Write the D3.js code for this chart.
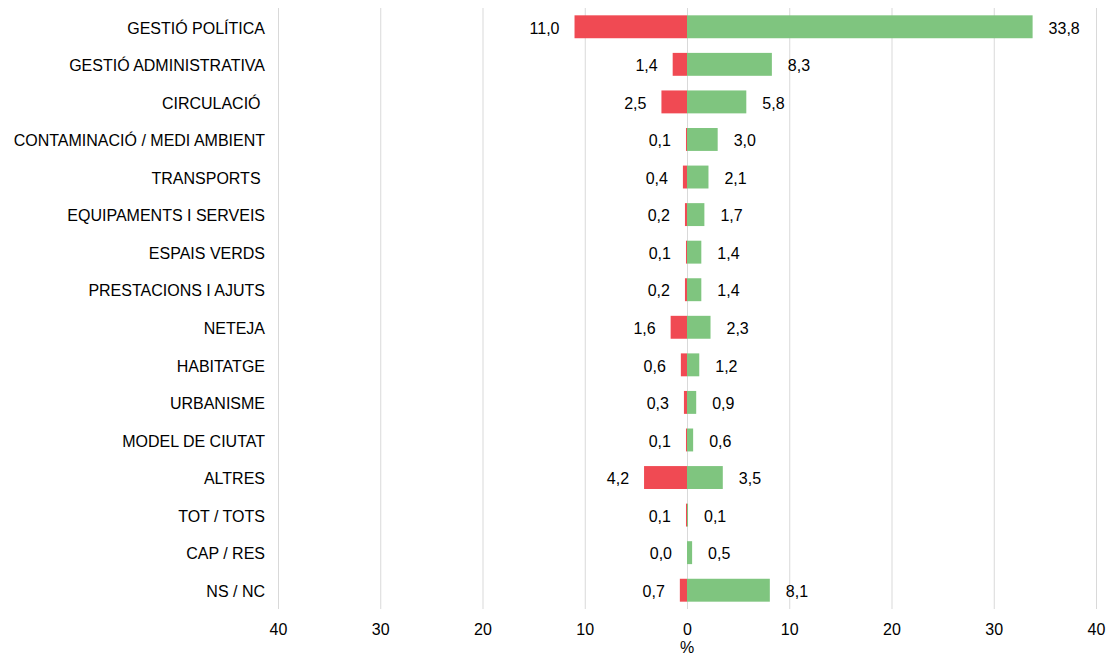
<!DOCTYPE html>
<html>
<head>
<meta charset="utf-8">
<script src="https://d3js.org/d3.v7.min.js"></script>
<style>
  body { margin: 0; background: #fff; }
  text { font-family: "Liberation Sans", Arial, sans-serif; fill: #000; }
</style>
</head>
<body>
<svg id="chart" width="1107" height="655"></svg>
<script>
// data
var categories = ["GESTIÓ POLÍTICA", "GESTIÓ ADMINISTRATIVA", "CIRCULACIÓ ", "CONTAMINACIÓ / MEDI AMBIENT",
  "TRANSPORTS ", "EQUIPAMENTS I SERVEIS", "ESPAIS VERDS", "PRESTACIONS I AJUTS", "NETEJA",
  "HABITATGE", "URBANISME", "MODEL DE CIUTAT", "ALTRES", "TOT / TOTS", "CAP / RES", "NS / NC"];
var negValues = [11.0, 1.4, 2.5, 0.1, 0.4, 0.2, 0.1, 0.2, 1.6, 0.6, 0.3, 0.1, 4.2, 0.1, 0.0, 0.7];
var posValues = [33.8, 8.3, 5.8, 3.0, 2.1, 1.7, 1.4, 1.4, 2.3, 1.2, 0.9, 0.6, 3.5, 0.1, 0.5, 8.1];
var tickValues = [-40, -30, -20, -10, 0, 10, 20, 30, 40];

var margin = {top: 8, left: 278, right: 10, bottom: 46};
var width = 818, height = 601;
var fs = 16;

var svg = d3.select("#chart");
var chart = svg.append("g")
  .attr("transform", "translate(" + margin.left + "," + margin.top + ")");

var x = d3.scaleLinear().domain([-40, 40]).range([0, width]);
var y = d3.scaleBand().domain(categories).range([0, height]).paddingInner(0.39).paddingOuter(0.195);

var fmt = function(v){ return v.toFixed(1).replace(".", ","); };

// gridlines
chart.selectAll(".grid")
  .data(tickValues)
  .enter().append("line")
  .attr("x1", function(d){ return x(d) + 0.5; })
  .attr("x2", function(d){ return x(d) + 0.5; })
  .attr("y1", 0)
  .attr("y2", height)
  .attr("stroke", "#d9d9d9")
  .attr("stroke-width", 1);

// bottom axis
var xAxis = d3.axisBottom(x).tickValues(tickValues).tickSize(0).tickPadding(15)
  .tickFormat(function(d){ return Math.abs(d); });
var ax = chart.append("g")
  .attr("transform", "translate(0," + height + ")")
  .call(xAxis);
ax.select(".domain").remove();
ax.attr("font-size", fs).attr("font-family", null);
ax.selectAll("text").attr("fill", "#000");

chart.append("text")
  .attr("x", x(0))
  .attr("y", height + 44)
  .attr("text-anchor", "middle")
  .attr("font-size", fs)
  .text("%");

// left axis (category labels)
var yAxis = d3.axisLeft(y).tickSize(0).tickPadding(13);
var ay = chart.append("g").call(yAxis);
ay.select(".domain").remove();
ay.attr("font-size", fs).attr("font-family", null);
ay.selectAll("text").attr("fill", "#000").attr("dy", "0.42em").style("white-space", "pre");

// negative bars
chart.selectAll(".neg")
  .data(categories)
  .enter().append("rect")
  .attr("class", "neg")
  .attr("x", function(d, i){ return x(-negValues[i]); })
  .attr("y", function(d){ return y(d); })
  .attr("width", function(d, i){ return x(0) - x(-negValues[i]); })
  .attr("height", y.bandwidth())
  .attr("fill", "#f04a53");

// positive bars
chart.selectAll(".pos")
  .data(categories)
  .enter().append("rect")
  .attr("class", "pos")
  .attr("x", x(0))
  .attr("y", function(d){ return y(d); })
  .attr("width", function(d, i){ return x(posValues[i]) - x(0); })
  .attr("height", y.bandwidth())
  .attr("fill", "#7fc57f");

// value labels
chart.selectAll(".negLabel")
  .data(categories)
  .enter().append("text")
  .attr("x", function(d, i){ return x(-negValues[i]) - 15; })
  .attr("y", function(d){ return y(d) + y.bandwidth() / 2; })
  .attr("dy", "0.42em")
  .attr("text-anchor", "end")
  .attr("font-size", fs)
  .text(function(d, i){ return fmt(negValues[i]); });

chart.selectAll(".posLabel")
  .data(categories)
  .enter().append("text")
  .attr("x", function(d, i){ return x(posValues[i]) + 16; })
  .attr("y", function(d){ return y(d) + y.bandwidth() / 2; })
  .attr("dy", "0.42em")
  .attr("text-anchor", "start")
  .attr("font-size", fs)
  .text(function(d, i){ return fmt(posValues[i]); });
</script>
</body>
</html>
